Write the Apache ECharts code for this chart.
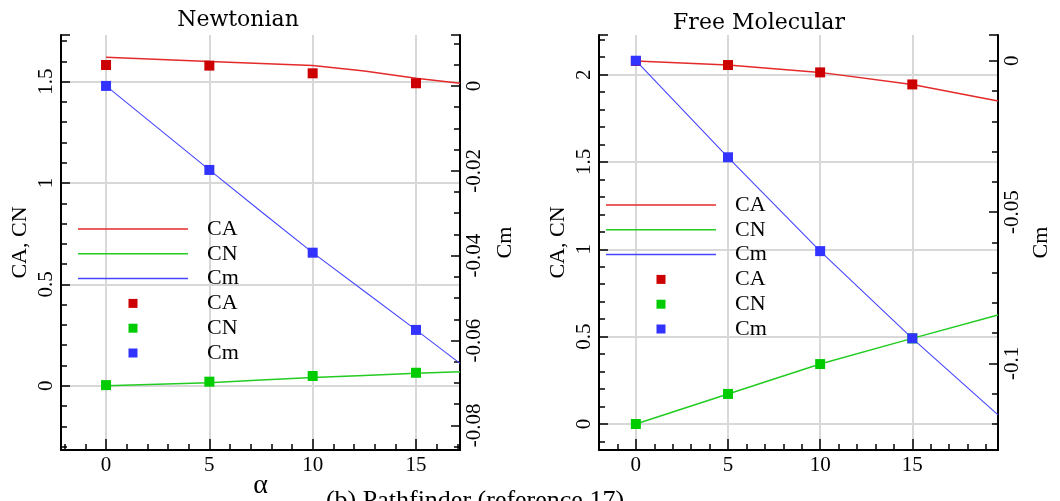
<!DOCTYPE html>
<html>
<head>
<meta charset="utf-8">
<script src="https://cdn.jsdelivr.net/npm/echarts@6/dist/echarts.min.js"></script>
<style>
html,body{margin:0;padding:0;background:#fff;}
#chart{width:1060px;height:501px;}
</style>
</head>
<body>
<div id="chart"></div>
<script>
// ---- data ----
var alphaPts = [0, 5, 10, 15];
// Newtonian
var newtLineAlpha = [0, 5, 7.5, 10, 12.5, 15, 17.13];
var newtCALine = [1.62, 1.599, 1.59, 1.579, 1.553, 1.517, 1.492];
var newtCNLine = [0, 0.015, 0.028, 0.041, 0.051, 0.061, 0.069];
var newtCmLine = [0, -0.0198, -0.0296, -0.0393, -0.0484, -0.0575, -0.0654];
var newtCAPts = [1.582, 1.579, 1.541, 1.492];
var newtCNPts = [0.003, 0.02, 0.048, 0.064];
var newtCmPts = [0, -0.0198, -0.0393, -0.0575];
// Free Molecular
var fmLineAlpha = [0, 5, 10, 15, 19.65];
var fmCALine = [2.078, 2.055, 2.013, 1.944, 1.849];
var fmCNLine = [0, 0.172, 0.343, 0.49, 0.624];
var fmCmLine = [0, -0.0319, -0.0629, -0.0917, -0.117];
var fmCAPts = [2.078, 2.055, 2.013, 1.944];
var fmCNPts = [0, 0.172, 0.343, 0.49];
var fmCmPts = [0, -0.0319, -0.0629, -0.0917];
// text
var panelTitles = ['Newtonian', 'Free Molecular'];
var seriesLabels = ['CA', 'CN', 'Cm'];
var leftAxisName = 'CA, CN';
var rightAxisName = 'Cm';
var xAxisName = '\u03b1';
var caption = '(b) Pathfinder (reference 17)';

// ---- styles ----
var FONT = '"Liberation Serif", "Times New Roman", serif';
var TFONT = '"DejaVu Serif", serif';
var lineColors = ['#e42a2a', '#22cc22', '#4646ff'];
var ptColors = ['#cc0000', '#00cc00', '#3333ff'];
var lineWidths = [1.5, 1.5, 1.1];

function zip(xs, ys) { return xs.map(function (x, i) { return [x, ys[i]]; }); }

function xAxisCfg(grid, min, max) {
  return {
    type: 'value', gridIndex: grid, min: min, max: max, splitNumber: 4,
    name: grid === 0 ? xAxisName : '', nameLocation: 'middle', nameGap: 22, nameMoveOverlap: false,
    nameTextStyle: { fontFamily: FONT, fontSize: 28, color: '#000' },
    axisLine: { show: true, onZero: false, lineStyle: { color: '#000', width: 2 } },
    axisTick: { show: true, inside: true, length: 11, lineStyle: { color: '#000', width: 1.5 } },
    minorTick: { show: true, splitNumber: 5, length: 6, lineStyle: { color: '#000', width: 1.5 } },
    splitLine: { show: true, showMinLine: false, showMaxLine: false, lineStyle: { color: '#d8d8d8', width: 2 } },
    axisLabel: { showMinLabel: false, showMaxLabel: false, margin: 5, color: '#000', fontFamily: FONT, fontSize: 21 }
  };
}
function yAxisCfg(grid, pos, min, max, split, minorSplit, name, nameGap, gridLines) {
  return {
    type: 'value', gridIndex: grid, position: pos, min: min, max: max, splitNumber: split,
    name: name, nameLocation: 'middle', nameGap: nameGap, nameRotate: 90, nameMoveOverlap: false,
    nameTextStyle: { fontFamily: FONT, fontSize: 22, color: '#000' },
    axisLine: { show: true, onZero: false, lineStyle: { color: '#000', width: 2 } },
    axisTick: { show: true, inside: true, length: 9, lineStyle: { color: '#000', width: 1.5 } },
    minorTick: { show: true, splitNumber: minorSplit, length: 6, lineStyle: { color: '#000', width: 1.5 } },
    splitLine: { show: gridLines, showMinLine: false, showMaxLine: false, lineStyle: { color: '#d8d8d8', width: 2 } },
    axisLabel: { showMinLabel: false, showMaxLabel: false, rotate: 90, margin: 4, color: '#000', fontFamily: FONT, fontSize: 21 }
  };
}

var series = [];
function addPanel(p, lineAlpha, lines, pts) {
  for (var i = 0; i < 3; i++) {
    series.push({
      name: seriesLabels[i] + '_line' + p, type: 'line',
      xAxisIndex: p, yAxisIndex: p * 2 + (i === 2 ? 1 : 0),
      data: zip(lineAlpha, lines[i]), showSymbol: false, symbol: 'none', smooth: false,
      lineStyle: { color: lineColors[i], width: lineWidths[i] }, itemStyle: { color: lineColors[i] },
      z: 2, silent: true, animation: false
    });
  }
  for (var j = 0; j < 3; j++) {
    series.push({
      name: seriesLabels[j] + '_pts' + p, type: 'scatter',
      xAxisIndex: p, yAxisIndex: p * 2 + (j === 2 ? 1 : 0),
      data: zip(alphaPts, pts[j]), symbol: 'rect', symbolSize: 10,
      itemStyle: { color: ptColors[j], opacity: 1 }, z: 3, silent: true, animation: false
    });
  }
}
addPanel(0, newtLineAlpha, [newtCALine, newtCNLine, newtCmLine], [newtCAPts, newtCNPts, newtCmPts]);
addPanel(1, fmLineAlpha, [fmCALine, fmCNLine, fmCmLine], [fmCAPts, fmCNPts, fmCmPts]);

var LINE_ICON = 'path://M0,0 L110,0 L110,1.5 L0,1.5 Z';
var SQ_ICON = 'path://M0,0 L9,0 L9,9 L0,9 Z';
function legendCfg(p, left, top) {
  var items = [];
  seriesLabels.forEach(function (s) { items.push({ name: s + '_line' + p, icon: LINE_ICON }); });
  seriesLabels.forEach(function (s) { items.push({ name: s + '_pts' + p, icon: SQ_ICON }); });
  return {
    data: items, orient: 'vertical', left: left, top: top, padding: 0,
    itemWidth: 110, itemHeight: 9, itemGap: 2.8, selectedMode: false, symbolKeepAspect: true,
    formatter: function (n) { return n.split('_')[0]; },
    textStyle: { fontFamily: FONT, fontSize: 22, color: '#000', lineHeight: 22, padding: [0, 0, 0, 14] }
  };
}

var option = {
  backgroundColor: '#fff',
  animation: false,
  grid: [
    { left: 61, right: 600, top: 35, bottom: 51, outerBoundsMode: 'none', containLabel: false },
    { left: 599, right: 62, top: 35, bottom: 51, outerBoundsMode: 'none', containLabel: false }
  ],
  xAxis: [xAxisCfg(0, -2.18, 17.13), xAxisCfg(1, -2.0, 19.65)],
  yAxis: [
    yAxisCfg(0, 'left', -0.317, 1.73, 4, 5, leftAxisName, 30, true),
    yAxisCfg(0, 'right', -0.0858, 0.012, 5, 4, rightAxisName, 34, false),
    yAxisCfg(1, 'left', -0.149, 2.227, 5, 5, leftAxisName, 30, true),
    yAxisCfg(1, 'right', -0.1286, 0.0085, 3, 5, rightAxisName, 32, false)
  ],
  legend: [legendCfg(0, 78, 218), legendCfg(1, 606, 194)],
  graphic: [
    { type: 'text', x: 238, y: 20, style: { text: panelTitles[0], align: 'center', verticalAlign: 'middle', font: '22px ' + TFONT, fill: '#000' } },
    { type: 'text', x: 759, y: 23, style: { text: panelTitles[1], align: 'center', verticalAlign: 'middle', font: '22px ' + TFONT, fill: '#000' } },
    { type: 'text', x: 475, y: 501, style: { text: caption, align: 'center', verticalAlign: 'middle', font: '26px ' + FONT, fill: '#000' } }
  ],
  series: series
};
var chart = echarts.init(document.getElementById('chart'), null, { renderer: 'canvas' });
chart.setOption(option);
</script>
</body>
</html>
